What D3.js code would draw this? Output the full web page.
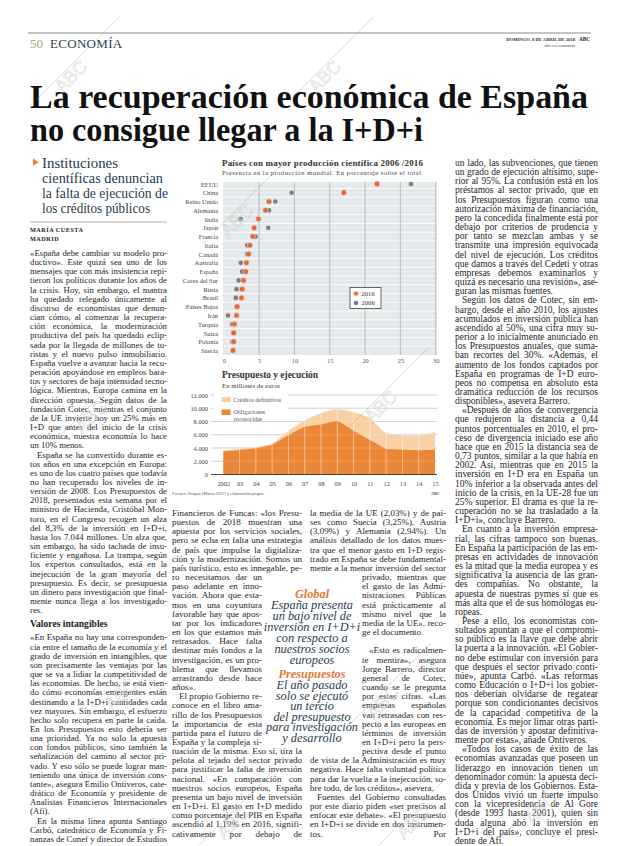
<!DOCTYPE html>
<html lang="es"><head><meta charset="utf-8">
<script src="https://cdn.jsdelivr.net/npm/d3@7"></script>
<style>html,body{margin:0;padding:0;background:#fff}svg{display:block}</style>
</head><body>
<svg id="page" width="620" height="846"></svg>
<script>
// ---------------- DATA ----------------
const countries = ["EEUU","China","Reino Unido","Alemania","India","Japón","Francia","Italia","Canadá","Australia","España","Corea del Sur","Rusia","Brasil","Países Bajos","Irán","Turquía","Suiza","Polonia","Suecia"];
const share2016 = [21.7,17.0,6.4,5.9,4.9,4.3,4.1,3.7,3.5,3.2,3.1,2.8,2.6,2.5,1.9,1.8,1.5,1.4,1.4,1.3];
const share2006 = [26.5,9.6,7.3,6.4,2.4,6.3,4.5,3.3,3.3,2.4,2.6,2.1,1.8,1.7,1.8,0.6,1.2,1.3,1.2,1.4];
const shareTicks = [0,5,10,15,20,25,30];
const seriesNames = ["2016","2006"];

const years = [2002,2003,2004,2005,2006,2007,2008,2009,2010,2011,2012,2013,2014,2015];
const yearLabels = ["2002","03","04","05","06","07","08","09","10","11","12","13","14","15"];
const creditos = [3650,3850,4150,4700,6600,8150,9250,9850,9400,8500,6300,5900,5900,6400];
const obligaciones = [3470,3700,3950,4450,5960,7200,7550,8150,6610,5210,3850,3740,3650,3740];
const budgetTicks = [0,2000,4000,6000,8000,10000,12000];
const budgetNames = ["Créditos definitivos","Obligaciones reconocidas"];

const headline = ["La recuperación económica de España","no consigue llegar a la I+D+i"];
const subhead = ["Instituciones","científicas denuncian","la falta de ejecución de","los créditos públicos"];
const pullGlobal = ["España presenta","un bajo nivel de","inversión en I+D+i","con respecto a","nuestros socios","europeos"];
const pullPresu = ["El año pasado","solo se ejecutó","un tercio","del presupuesto","para investigación","y desarrollo"];

const col1Text = [
 {text:"«España debe cambiar su modelo productivo». Este quizá sea uno de los mensajes que con más insistencia repitieron los políticos durante los años de la crisis. Hoy, sin embargo, el mantra ha quedado relegado únicamente al discurso de economistas que denuncian cómo, al comenzar la recuperación económica, la modernización productiva del país ha quedado eclipsada por la llegada de millones de turistas y el nuevo pulso inmobiliario. España vuelve a avanzar hacia la recuperación apoyándose en empleos baratos y sectores de baja intensidad tecnológica. Mientras, Europa camina en la dirección opuesta. Según datos de la fundación Cotec, mientras el conjunto de la UE invierte hoy un 25% más en I+D que antes del inicio de la crisis económica, nuestra economía lo hace un 10% menos."},
 {indent:true,text:"España se ha convertido durante estos años en una excepción en Europa: es uno de los cuatro países que todavía no han recuperado los niveles de inversión de 2008. Los Presupuestos de 2018, presentados esta semana por el ministro de Hacienda, Cristóbal Montoro, en el Congreso recogen un alza del 8,3% de la inversión en I+D+i, hasta los 7.044 millones. Un alza que, sin embargo, ha sido tachada de insuficiente y engañosa. La trampa, según los expertos consultados, está en la inejecución de la gran mayoría del presupuesto. Es decir, se presupuesta un dinero para investigación que finalmente nunca llega a los investigadores."},
 {head:true,text:"Valores intangibles"},
 {text:"«En España no hay una correspondencia entre el tamaño de la economía y el grado de inversión en intangibles, que son precisamente las ventajas por las que se va a lidiar la competitividad de las economías. De hecho, se está viendo cómo economías emergentes están destinando a la I+D+i cantidades cada vez mayores. Sin embargo, el esfuerzo hecho solo recupera en parte la caída. En los Presupuestos esto debería ser una prioridad. Ya no solo la apuesta con fondos públicos, sino también la señalización del camino al sector privado. Y eso sólo se puede lograr manteniendo una única de inversión constante», asegura Emilio Ontiveros, catedrático de Economía y presidente de Analistas Financieros Internacionales (Afi)."},
 {indent:true,cont:true,text:"En la misma línea apunta Santiago Carbó, catedrático de Economía y Finanzas de Cunef y director de Estudios"}
];
const col2Text = [
 {text:"Financieros de Funcas: «los Presupuestos de 2018 muestran una apuesta por los servicios sociales, pero se echa en falta una estrategia de país que impulse la digitalización y la modernización. Somos un país turístico, esto es innegable, pero necesitamos dar un paso adelante en innovación. Ahora que estamos en una coyuntura favorable hay que apostar por los indicadores en los que estamos más retrasados. Hace falta destinar más fondos a la investigación, es un problema que llevamos arrastrando desde hace años»."},
 {indent:true,cont:true,text:"El propio Gobierno reconoce en el libro amarillo de los Presupuestos la importancia de esta partida para el futuro de España y la compleja situación de la misma. Eso sí, tira la pelota al tejado del sector privado para justificar la falta de inversión nacional. «En comparación con nuestros socios europeos, España presenta un bajo nivel de inversión en I+D+i. El gasto en I+D medido como porcentaje del PIB en España ascendió al 1,19% en 2016, significativamente por debajo de"}
];
const col3Text = [
 {text:"la media de la UE (2,03%) y de países como Suecia (3,25%), Austria (3,09%) y Alemania (2,94%). Un análisis detallado de los datos muestra que el menor gasto en I+D registrado en España se debe fundamentalmente a la menor inversión del sector privado, mientras que el gasto de las Administraciones Públicas está prácticamente al mismo nivel que la media de la UE», recoge el documento."},
 {indent:true,gap:true,text:"«Esto es radicalmente mentira», asegura Jorge Barrero, director general de Cotec, cuando se le pregunta por estas cifras. «Las empresas españolas van retrasadas con respecto a las europeas en términos de inversión en I+D+i pero la perspectiva desde el punto de vista de la Administración es muy negativa. Hace falta voluntad política para dar la vuelta a la inejecución, sobre todo, de los créditos», asevera."},
 {indent:true,cont:true,text:"Fuentes del Gobierno consultadas por este diario piden «ser precisos al enfocar este debate». «El presupuesto en I+D+i se divide en dos instrumentos. Por"}
];
const col4Text = [
 {text:"un lado, las subvenciones, que tienen un grado de ejecución altísimo, superior al 95%. La confusión está en los préstamos al sector privado, que en los Presupuestos figuran como una autorización máxima de financiación, pero la concedida finalmente está por debajo por criterios de prudencia y por tanto se mezclan ambas y se transmite una impresión equivocada del nivel de ejecución. Los créditos que damos a través del Cedeti y otras empresas debemos examinarlos y quizá es necesario una revisión», aseguran las mismas fuentes."},
 {indent:true,text:"Según los datos de Cotec, sin embargo, desde el año 2010, los ajustes acumulados en inversión pública han ascendido al 50%, una cifra muy superior a lo inicialmente anunciado en los Presupuestos anuales, que sumaban recortes del 30%. «Además, el aumento de los fondos captados por España en programas de I+D europeos no compensa en absoluto esta dramática reducción de los recursos disponibles», asevera Barrero."},
 {indent:true,text:"«Después de años de convergencia que redujeron la distancia a 0,44 puntos porcentuales en 2010, el proceso de divergencia iniciado ese año hace que en 2015 la distancia sea de 0,73 puntos, similar a la que había en 2002. Así, mientras que en 2015 la inversión en I+D era en España un 10% inferior a la observada antes del inicio de la crisis, en la UE-28 fue un 25% superior. El drama es que la recuperación no se ha trasladado a la I+D+i», concluye Barrero."},
 {indent:true,text:"En cuanto a la inversión empresarial, las cifras tampoco son buenas. En España la participación de las empresas en actividades de innovación es la mitad que la media europea y es significativa la ausencia de las grandes compañías. No obstante, la apuesta de nuestras pymes sí que es más alta que el de sus homólogas europeas."},
 {indent:true,text:"Pese a ello, los economistas consultados apuntan a que el compromiso público es la llave que debe abrir la puerta a la innovación. «El Gobierno debe estimular con inversión para que después el sector privado continúe», apunta Carbó. «Las reformas como Educación o I+D+i los gobiernos deberían olvidarse de regatear porque son condicionantes decisivos de la capacidad competitiva de la economía. Es mejor limar otras partidas de inversión y apostar definitivamente por estas», añade Ontiveros."},
 {indent:true,text:"«Todos los casos de éxito de las economías avanzadas que poseen un liderazgo en innovación tienen un denominador común: la apuesta decidida y previa de los Gobiernos. Estados Unidos vivió un fuerte impulso con la vicepresidencia de Al Gore (desde 1993 hasta 2001), quien sin duda alguna abó la inversión en I+D+i del país», concluye el presidente de Afi."}
];

// ---------------- PAGE ----------------
const SERIF = "Liberation Serif, Tinos, Times New Roman, serif";
const SANS = "Liberation Sans, Arimo, Arial, sans-serif";
const ORANGE = "#e2693a", TEAL = "#1f3b4d";
const svg = d3.select("#page");
svg.append("rect").attr("width",620).attr("height",846).attr("fill","#fff");

// header
svg.append("line").attr("x1",28).attr("x2",591).attr("y1",33).attr("y2",33).attr("stroke","#8a8a8a").attr("stroke-width",1);
svg.append("text").attr("x",30).attr("y",48).attr("font-family",SERIF).attr("font-size",13).attr("fill","#a89f7c").text("50");
svg.append("text").attr("x",50).attr("y",48).attr("font-family",SERIF).attr("font-size",13).attr("fill","#2e4250").attr("letter-spacing",0.3).text("ECONOMÍA");
svg.append("text").attr("x",575).attr("y",40.5).attr("text-anchor","end").attr("font-family",SERIF).attr("font-size",4.6).attr("font-weight","bold").attr("fill","#333").text("DOMINGO, 8 DE ABRIL DE 2018");
svg.append("text").attr("x",590).attr("y",40.5).attr("text-anchor","end").attr("font-family",SERIF).attr("font-size",5.2).attr("font-weight","bold").attr("fill","#222").text("ABC");
svg.append("text").attr("x",575).attr("y",46.5).attr("text-anchor","end").attr("font-family",SERIF).attr("font-size",4.6).attr("fill","#444").text("abc.es/economia");

// headline
const hl = [{y:108,w:558},{y:141,w:393}];
headline.forEach((t,i)=>{
  svg.append("text").attr("x",30).attr("y",hl[i].y).attr("font-family",SERIF).attr("font-weight","bold")
    .attr("font-size",34).attr("fill","#111").attr("textLength",hl[i].w).attr("lengthAdjust","spacingAndGlyphs").text(t);
});

// subhead
svg.append("path").attr("d","M33,158.5 L33,166 L38.5,162.2 Z").attr("fill","#e8803c");
const shW = [76,121,126,108];
subhead.forEach((t,i)=>{
  svg.append("text").attr("x",42).attr("y",167.5+i*15).attr("font-family",SERIF).attr("font-size",15.5)
    .attr("fill",TEAL).attr("textLength",shW[i]).attr("lengthAdjust","spacingAndGlyphs").text(t);
});
svg.append("line").attr("x1",30).attr("x2",167).attr("y1",222).attr("y2",222).attr("stroke","#9a9a9a").attr("stroke-width",0.8);
svg.append("text").attr("x",30).attr("y",232).attr("font-family",SERIF).attr("font-size",6.2).attr("font-weight","bold").attr("letter-spacing",0.5).attr("fill","#222").text("MARÍA CUESTA");
svg.append("text").attr("x",30).attr("y",241).attr("font-family",SERIF).attr("font-size",6.2).attr("font-weight","bold").attr("letter-spacing",0.5).attr("fill","#222").text("MADRID");

// ---------------- BODY TEXT FLOW (with simple Spanish hyphenation) ----------------
const LH = 9.16;
const measurer = svg.append("text").attr("font-family",SERIF).attr("font-size",10).attr("x",-3000).attr("y",-3000);
const wcache = new Map();
function baseW(s){ let w = wcache.get(s); if (w===undefined){ measurer.text(s); w = measurer.node().getComputedTextLength(); wcache.set(s,w);} return w; }
const SPACE10 = baseW("n n") - baseW("nn");
const INSEP = ["bl","br","cl","cr","dr","fl","fr","gl","gr","kl","kr","pl","pr","tr","ch","ll","rr","tl"];
const isV = c => "aeiouáéíóúü".includes(c);
function syll(w){
  const res=[]; const n=w.length; let k=0;
  while(k<n && !isV(w[k])) k++;
  while(k<n){
    while(k<n && isV(w[k])) k++;
    const c0=k;
    while(k<n && !isV(w[k])) k++;
    if(k>=n) break;
    const cons=w.slice(c0,k), nc=cons.length;
    let b;
    if(nc===1) b=c0;
    else if(nc===2) b=INSEP.includes(cons)?c0:c0+1;
    else if(nc===3) b=INSEP.includes(cons.slice(1))?c0+1:c0+2;
    else b=c0+2;
    res.push(b);
  }
  return res;
}
const LET = "a-zA-ZáéíóúüñÁÉÍÓÚÜÑ";
const reW = new RegExp("^([^"+LET+"]*)(["+LET+"]+)([^"+LET+"]*)$");
function hyph(word){
  const m = word.match(reW); if(!m) return [];
  const pre=m[1].length, core=m[2].toLowerCase();
  return syll(core).filter(b=>b>=2 && core.length-b>=2).map(b=>b+pre);
}
function layout(col, paras, fs){
  const lines=[]; let y=col.y0; let ok=true;
  const sc = fs/10, sp = SPACE10*sc;
  for (const p of paras){
    if (p.gap) y += LH;
    if (p.head){ y += 5; lines.push({head:true,x:col.band(y).x,y,text:p.text}); y += 13; continue; }
    let words = p.text.split(/\s+/); let first = true;
    while (words.length){
      if (y > col.yMax){ ok=false; break; }
      const b = col.band(y); const ind = (first && p.indent) ? 7 : 0; const avail = b.w - ind;
      const cur=[words[0]]; let w = baseW(words[0])*sc; let k=1;
      while (k<words.length && w + sp + baseW(words[k])*sc <= avail){ w += sp + baseW(words[k])*sc; cur.push(words[k]); k++; }
      let rest = words.slice(k);
      if (k < words.length){
        const word = words[k]; const bps = hyph(word);
        for (let t=bps.length-1; t>=0; t--){
          const pre = word.slice(0,bps[t]) + "-";
          if (w + sp + baseW(pre)*sc <= avail){ cur.push(pre); rest = [word.slice(bps[t]), ...words.slice(k+1)]; break; }
        }
      }
      const last = rest.length===0;
      lines.push({x:b.x+ind, y, text:cur.join(" "), justify:(!last || p.cont), avail});
      words = rest; y += LH; first = false;
    }
    if (!ok) break;
  }
  return {lines, ok};
}
function flow(col, paras){
  let lo=6.8, hi=10.5;
  for (let it=0; it<18; it++){ const mid=(lo+hi)/2; if (layout(col,paras,mid).ok) lo=mid; else hi=mid; }
  const fs = lo;
  const res = layout(col, paras, fs);
  const g = svg.append("g").attr("font-family",SERIF).attr("font-size",fs).attr("fill","#262626");
  res.lines.forEach(L=>{
    if (L.head){
      g.append("text").attr("x",L.x).attr("y",L.y).attr("font-size",9.6).attr("font-weight","bold").attr("fill","#1a1a1a").text(L.text);
      return;
    }
    const t = g.append("text").attr("x",L.x).attr("y",L.y).text(L.text);
    const nsp = (L.text.match(/ /g)||[]).length;
    if (L.justify && nsp>0){
      const nat = t.node().getComputedTextLength();
      const ws = (L.avail - nat)/nsp;
      if (ws > -1) t.style("word-spacing", ws + "px");
    }
  });
}
flow({y0:256,yMax:845,band:()=>({x:30,w:137})}, col1Text);
flow({y0:516,yMax:845,band:y=>(y>=574&&y<=752)?{x:172,w:90}:{x:172,w:130}}, col2Text);
flow({y0:516,yMax:845,band:y=>(y>=574&&y<=762)?{x:362,w:84}:{x:310,w:136}}, col3Text);
flow({y0:166,yMax:845,band:()=>({x:455,w:143})}, col4Text);

// pull quotes
const pq = svg.append("g").attr("font-family",SERIF).attr("font-style","italic").attr("text-anchor","middle");
pq.append("text").attr("x",312).attr("y",598).attr("font-size",12.3).attr("font-weight","bold").attr("fill","#e07a3a").text("Global");
pullGlobal.forEach((t,i)=>pq.append("text").attr("x",312).attr("y",609+i*10.9).attr("font-size",12.3).attr("fill",TEAL).text(t));
pq.append("text").attr("x",312).attr("y",678).attr("font-size",12.3).attr("font-weight","bold").attr("fill","#e07a3a").text("Presupuestos");
pullPresu.forEach((t,i)=>pq.append("text").attr("x",312).attr("y",689+i*10.6).attr("font-size",12.3).attr("fill",TEAL).text(t));

// ---------------- CHART 1: dot plot ----------------
const c1 = svg.append("g");
c1.append("text").attr("x",222).attr("y",166).attr("font-family",SERIF).attr("font-size",9).attr("font-weight","bold").attr("fill","#333")
  .attr("textLength",201).attr("lengthAdjust","spacing").text("Países con mayor producción científica 2006 /2016");
c1.append("text").attr("x",222).attr("y",174.6).attr("font-family",SERIF).attr("font-size",6.6).attr("fill","#444")
  .attr("textLength",199).attr("lengthAdjust","spacing").text("Presencia en la producción mundial. En porcentaje sobre el total");

const xs = d3.scaleLinear().domain([0,30]).range([223.8,435.7]);
const ys = d3.scalePoint().domain(countries).range([184,350.5]);
const step = ys.step();
c1.append("rect").attr("x",223).attr("y",182).attr("width",214).attr("height",173).attr("fill","#e3e8ea");
c1.selectAll(".rowb").data(countries.slice(0,-1)).join("line")
  .attr("x1",223).attr("x2",437).attr("y1",d=>ys(d)+step/2).attr("y2",d=>ys(d)+step/2).attr("stroke","#fff").attr("stroke-width",0.9);
c1.selectAll(".rowc").data(countries).join("line")
  .attr("x1",223).attr("x2",437).attr("y1",d=>ys(d)).attr("y2",d=>ys(d)).attr("stroke","#fff").attr("stroke-width",0.5).attr("opacity",0.7);
c1.selectAll(".vg").data(shareTicks.slice(1)).join("line")
  .attr("x1",d=>xs(d)).attr("x2",d=>xs(d)).attr("y1",182).attr("y2",355).attr("stroke","#a3abb0").attr("stroke-width",0.7);

const yAx = c1.append("g").attr("transform","translate(223,0)").call(d3.axisLeft(ys).tickSize(0).tickPadding(5));
yAx.select(".domain").remove();
yAx.attr("font-family",SERIF).attr("font-size",6.4).selectAll("text").attr("fill","#444");
const xAx = c1.append("g").attr("transform","translate(0,357)").call(d3.axisBottom(xs).tickValues(shareTicks).tickSize(0).tickPadding(1.5));
xAx.select(".domain").remove();
xAx.attr("font-family",SERIF).attr("font-size",6.4).selectAll("text").attr("fill","#555");

c1.selectAll(".d06").data(countries).join("circle")
  .attr("cx",(d,i)=>xs(share2006[i])).attr("cy",d=>ys(d)).attr("r",2.3).attr("fill","#7b7e80");
c1.selectAll(".d16").data(countries).join("circle")
  .attr("cx",(d,i)=>xs(share2016[i])).attr("cy",d=>ys(d)).attr("r",2.4).attr("fill",ORANGE)
  .attr("stroke","#f6c7a6").attr("stroke-width",1.2).attr("paint-order","stroke");

const lg = c1.append("g");
lg.append("rect").attr("x",350).attr("y",287.5).attr("width",31).attr("height",21).attr("fill","#fff").attr("stroke","#555").attr("stroke-width",0.9);
[{c:ORANGE,s:"#f6c7a6"},{c:"#7b7e80",s:"none"}].forEach((o,i)=>{
  lg.append("circle").attr("cx",356).attr("cy",293.6+i*9.4).attr("r",2.3).attr("fill",o.c).attr("stroke",o.s).attr("stroke-width",1);
  lg.append("text").attr("x",361.5).attr("y",296+i*9.4).attr("font-family",SERIF).attr("font-size",6.6).attr("fill","#333").text(seriesNames[i]);
});

// ---------------- CHART 2: area ----------------
const c2 = svg.append("g");
c2.append("text").attr("x",222).attr("y",378).attr("font-family",SERIF).attr("font-size",9.5).attr("font-weight","bold").attr("fill","#333")
  .attr("textLength",96).attr("lengthAdjust","spacing").text("Presupuesto y ejecución");
c2.append("text").attr("x",222).attr("y",387.6).attr("font-family",SERIF).attr("font-size",6.8).attr("fill","#444")
  .attr("textLength",58).attr("lengthAdjust","spacing").text("En millones de euros");

const xb = d3.scaleLinear().domain([2002,2015]).range([223.3,435]);
const yb = d3.scaleLinear().domain([0,12000]).range([474.5,395]);
c2.selectAll(".hg").data(budgetTicks.slice(1)).join("line")
  .attr("x1",211).attr("x2",437).attr("y1",d=>yb(d)).attr("y2",d=>yb(d)).attr("stroke","#b8b8b8").attr("stroke-width",0.7);

const cd = years.map((y,i)=>({y, c:creditos[i], o:obligaciones[i]}));
c2.append("path").datum(cd).attr("fill","#f9d0a4")
  .attr("d",d3.area().x(d=>xb(d.y)).y0(yb(0)).y1(d=>yb(d.c)).curve(d3.curveMonotoneX));
c2.append("path").datum(cd).attr("fill","#ec8637")
  .attr("d",d3.area().x(d=>xb(d.y)).y0(yb(0)).y1(d=>yb(d.o)));
c2.selectAll(".vy").data(cd.slice(1,-1)).join("line")
  .attr("x1",d=>xb(d.y)).attr("x2",d=>xb(d.y)).attr("y1",yb(0)).attr("y2",d=>yb(d.c))
  .attr("stroke","#fff").attr("stroke-width",0.6).attr("opacity",0.75);
c2.selectAll(".hg2").data(budgetTicks.slice(1)).join("line")
  .attr("x1",223.3).attr("x2",435).attr("y1",d=>yb(d)).attr("y2",d=>yb(d)).attr("stroke","#fff").attr("stroke-width",0.6).attr("opacity",0.3);
c2.append("line").attr("x1",211).attr("x2",437).attr("y1",yb(0)).attr("y2",yb(0)).attr("stroke","#333").attr("stroke-width",0.9);

const esLocale = d3.formatLocale({decimal:",",thousands:".",grouping:[3],currency:["","€"]});
const yAx2 = c2.append("g").attr("transform","translate(208,0)").call(d3.axisLeft(yb).tickValues(budgetTicks).tickSize(0).tickPadding(0).tickFormat(esLocale.format(",")));
yAx2.select(".domain").remove();
yAx2.attr("font-family",SERIF).attr("font-size",6.4).selectAll("text").attr("fill","#444");
const xAx2 = c2.append("g").attr("transform","translate(0,477)").call(d3.axisBottom(xb).tickValues(years).tickSize(0).tickPadding(4).tickFormat((d,i)=>yearLabels[i]));
xAx2.select(".domain").remove();
xAx2.attr("font-family",SERIF).attr("font-size",6.4).selectAll("text").attr("fill","#444");

const lg2 = c2.append("g");
lg2.append("rect").attr("x",214).attr("y",391).attr("width",74).attr("height",29).attr("fill","#fff");
lg2.append("rect").attr("x",221.5).attr("y",397).attr("width",9).attr("height",5).attr("fill","#f9d0a4");
lg2.append("rect").attr("x",221.5).attr("y",409.5).attr("width",9).attr("height",5.5).attr("fill","#ec8637");
lg2.append("text").attr("x",233.5).attr("y",401.8).attr("font-family",SERIF).attr("font-size",6).attr("fill","#555").text(budgetNames[0]);
lg2.append("text").attr("x",233.5).attr("y",413.6).attr("font-family",SERIF).attr("font-size",6).attr("fill","#555").text("Obligaciones");
lg2.append("text").attr("x",233.5).attr("y",420.8).attr("font-family",SERIF).attr("font-size",6).attr("fill","#555").text("reconocidas");

c2.append("text").attr("x",172).attr("y",494.5).attr("font-family",SERIF).attr("font-size",4.4).attr("fill","#555").text("Fuentes: Scopus (Marzo 2017) y elaboración propia.");
c2.append("text").attr("x",440).attr("y",494.5).attr("text-anchor","end").attr("font-family",SERIF).attr("font-size",4.4).attr("font-weight","bold").attr("fill","#555").text("ABC");

// ---------------- watermarks ----------------
const wm = [[62,94],[316,94],[228,238],[372,424],[82,434],[374,720],[112,712],[224,840],[404,840],[532,826]];
const wg = svg.append("g").attr("pointer-events","none");
wm.forEach(([x,y])=>{
  const g = wg.append("g").attr("transform",`translate(${x},${y}) rotate(-45)`);
  g.append("line").attr("x1",-22).attr("x2",95).attr("y1",-14).attr("y2",-14).attr("stroke","#9a9a9a").attr("stroke-width",0.6).attr("opacity",0.55);
  g.append("text").attr("x",0).attr("y",0).attr("font-family",SANS).attr("font-size",18).attr("fill","#fff").attr("fill-opacity",0.45)
    .attr("stroke","#9a9a9a").attr("stroke-width",0.5).attr("stroke-opacity",0.55).text("ABC");
});
measurer.remove();
</script>
</body></html>
